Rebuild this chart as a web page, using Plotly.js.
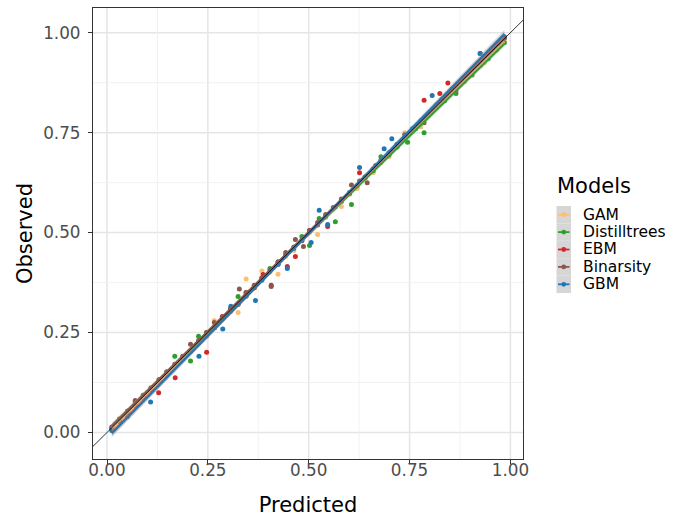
<!DOCTYPE html>
<html>
<head>
<meta charset="utf-8">
<script src="https://cdn.plot.ly/plotly-3.0.1.min.js"></script>
<style>html,body{margin:0;padding:0;background:#fff;}#chart{width:679px;height:517px;}</style>
</head>
<body>
<div id="chart"></div>
<script>
// ---- data ----
const models = ["GAM", "Distilltrees", "EBM", "Binarsity", "GBM"];
const colors = ["#FDBF6F", "#2CA02C", "#D62728", "#8C564B", "#1F77B4"];

const gamX = [0.012, 0.031, 0.051, 0.070, 0.090, 0.109, 0.129, 0.148, 0.168, 0.188, 0.207, 0.227, 0.247, 0.266, 0.286, 0.306, 0.325, 0.345, 0.365, 0.384, 0.404, 0.424, 0.443, 0.463, 0.483, 0.502, 0.522, 0.542, 0.561, 0.581, 0.601, 0.620, 0.640, 0.660, 0.679, 0.699, 0.719, 0.738, 0.758, 0.778, 0.797, 0.817, 0.837, 0.856, 0.876, 0.896, 0.915, 0.935, 0.955, 0.974, 0.985];
const gamY = [0.012, 0.028, 0.047, 0.068, 0.088, 0.106, 0.131, 0.145, 0.166, 0.186, 0.205, 0.224, 0.240, 0.280, 0.283, 0.303, 0.300, 0.384, 0.362, 0.404, 0.401, 0.396, 0.440, 0.455, 0.479, 0.500, 0.495, 0.538, 0.558, 0.565, 0.596, 0.610, 0.636, 0.650, 0.675, 0.690, 0.715, 0.750, 0.754, 0.765, 0.793, 0.812, 0.835, 0.851, 0.870, 0.891, 0.911, 0.925, 0.950, 0.969, 0.978];

const distX = [0.012, 0.031, 0.051, 0.070, 0.090, 0.109, 0.129, 0.148, 0.168, 0.188, 0.207, 0.227, 0.247, 0.266, 0.286, 0.306, 0.325, 0.345, 0.365, 0.384, 0.404, 0.424, 0.443, 0.463, 0.483, 0.502, 0.526, 0.542, 0.566, 0.581, 0.606, 0.620, 0.640, 0.660, 0.679, 0.699, 0.719, 0.745, 0.765, 0.786, 0.817, 0.837, 0.865, 0.885, 0.905, 0.925, 0.945, 0.965, 0.985];
const distY = [0.009, 0.033, 0.052, 0.076, 0.093, 0.112, 0.132, 0.150, 0.191, 0.190, 0.179, 0.241, 0.250, 0.262, 0.289, 0.309, 0.340, 0.347, 0.362, 0.386, 0.410, 0.425, 0.445, 0.464, 0.490, 0.468, 0.535, 0.541, 0.527, 0.578, 0.570, 0.617, 0.640, 0.655, 0.690, 0.694, 0.714, 0.726, 0.760, 0.750, 0.815, 0.830, 0.848, 0.878, 0.894, 0.918, 0.935, 0.957, 0.975];

const ebmX = [0.012, 0.031, 0.051, 0.070, 0.090, 0.109, 0.128, 0.148, 0.169, 0.188, 0.207, 0.227, 0.247, 0.266, 0.286, 0.306, 0.325, 0.345, 0.365, 0.387, 0.407, 0.424, 0.447, 0.467, 0.483, 0.502, 0.522, 0.547, 0.581, 0.601, 0.626, 0.640, 0.660, 0.699, 0.719, 0.738, 0.758, 0.786, 0.825, 0.845, 0.866, 0.896, 0.925, 0.955, 0.970, 0.985];
const ebmY = [0.010, 0.028, 0.049, 0.068, 0.087, 0.107, 0.0995, 0.146, 0.137, 0.185, 0.203, 0.224, 0.201, 0.262, 0.290, 0.303, 0.321, 0.350, 0.362, 0.395, 0.368, 0.421, 0.415, 0.440, 0.480, 0.505, 0.519, 0.515, 0.580, 0.598, 0.650, 0.638, 0.660, 0.697, 0.720, 0.737, 0.757, 0.831, 0.848, 0.874, 0.866, 0.890, 0.926, 0.955, 0.971, 0.988];

const binX = [0.012, 0.031, 0.051, 0.070, 0.090, 0.109, 0.129, 0.148, 0.168, 0.188, 0.207, 0.227, 0.247, 0.266, 0.286, 0.306, 0.328, 0.345, 0.365, 0.384, 0.407, 0.424, 0.443, 0.467, 0.487, 0.502, 0.522, 0.542, 0.561, 0.581, 0.606, 0.626, 0.645, 0.666, 0.679, 0.699, 0.719, 0.738, 0.758, 0.786, 0.817, 0.845, 0.865, 0.885, 0.905, 0.925, 0.945, 0.965, 0.985];
const binY = [0.014, 0.034, 0.054, 0.080, 0.093, 0.110, 0.132, 0.152, 0.171, 0.191, 0.221, 0.230, 0.250, 0.275, 0.289, 0.309, 0.359, 0.350, 0.368, 0.387, 0.365, 0.427, 0.450, 0.483, 0.465, 0.505, 0.525, 0.545, 0.563, 0.584, 0.619, 0.629, 0.625, 0.668, 0.681, 0.700, 0.721, 0.745, 0.760, 0.775, 0.819, 0.846, 0.854, 0.886, 0.906, 0.948, 0.946, 0.960, 0.987];

const gbmX = [0.012, 0.031, 0.051, 0.070, 0.090, 0.108, 0.129, 0.148, 0.168, 0.188, 0.207, 0.228, 0.247, 0.266, 0.287, 0.307, 0.325, 0.345, 0.368, 0.384, 0.404, 0.424, 0.447, 0.463, 0.483, 0.506, 0.526, 0.547, 0.566, 0.601, 0.626, 0.660, 0.687, 0.706, 0.738, 0.758, 0.778, 0.806, 0.830, 0.856, 0.885, 0.905, 0.925, 0.955, 0.985];
const gbmY = [0.005, 0.028, 0.040, 0.066, 0.086, 0.076, 0.126, 0.145, 0.164, 0.184, 0.203, 0.191, 0.243, 0.262, 0.259, 0.316, 0.321, 0.341, 0.330, 0.381, 0.405, 0.421, 0.410, 0.460, 0.480, 0.475, 0.556, 0.520, 0.564, 0.600, 0.663, 0.659, 0.710, 0.735, 0.739, 0.760, 0.779, 0.843, 0.832, 0.860, 0.887, 0.908, 0.948, 0.958, 0.990];

const tickVals = [0, 0.25, 0.5, 0.75, 1];
const tickText = ["0.00", "0.25", "0.50", "0.75", "1.00"];
const minorVals = [0.125, 0.375, 0.625, 0.875];

const seriesX = [gamX, distX, ebmX, binX, gbmX];
const seriesY = [gamY, distY, ebmY, binY, gbmY];

// ---- layout constants ----
const W = 679, H = 517;
const M = {l: 93, r: 156, t: 8, b: 58};
const xRange = [-0.0347, 1.0312];
const yRange = [-0.0663, 1.0618];
const FONT = "DejaVu Sans, sans-serif";

// linear model fit with 95% confidence band (as geom_smooth(method = "lm"))
function lmFit(xs, ys) {
  const n = xs.length;
  const xbar = xs.reduce((a, b) => a + b, 0) / n;
  const ybar = ys.reduce((a, b) => a + b, 0) / n;
  let sxx = 0, sxy = 0;
  for (let i = 0; i < n; i++) { sxx += (xs[i] - xbar) ** 2; sxy += (xs[i] - xbar) * (ys[i] - ybar); }
  const b = sxy / sxx, a = ybar - b * xbar;
  let sse = 0;
  for (let i = 0; i < n; i++) sse += (ys[i] - a - b * xs[i]) ** 2;
  const s = Math.sqrt(sse / (n - 2));
  return {a, b, s, xbar, sxx, n};
}
const tCrit = 2.01;

const traces = [];
// points
models.forEach((m, i) => {
  traces.push({
    type: "scatter", mode: "markers", x: seriesX[i], y: seriesY[i], name: m,
    marker: {color: colors[i], size: 5}, showlegend: false, hoverinfo: "x+y+name"
  });
});
// smooth ribbons + lines
models.forEach((m, i) => {
  const f = lmFit(seriesX[i], seriesY[i]);
  const x0 = Math.min(...seriesX[i]), x1 = Math.max(...seriesX[i]);
  const gx = [], fit = [], up = [], lo = [];
  for (let k = 0; k <= 80; k++) {
    const x = x0 + (x1 - x0) * k / 80;
    const yh = f.a + f.b * x;
    const se = f.s * Math.sqrt(1 / f.n + (x - f.xbar) ** 2 / f.sxx);
    gx.push(x); fit.push(yh); up.push(yh + tCrit * se); lo.push(yh - tCrit * se);
  }
  traces.push({
    type: "scatter", mode: "lines", x: gx.concat(gx.slice().reverse()), y: up.concat(lo.slice().reverse()),
    fill: "toself", fillcolor: "rgba(153,153,153,0.4)", line: {width: 0}, showlegend: false, hoverinfo: "skip"
  });
  traces.push({
    type: "scatter", mode: "lines", x: gx, y: fit, name: m,
    line: {color: colors[i], width: 2}, showlegend: false
  });
});
// identity reference line y = x
traces.push({
  type: "scatter", mode: "lines", x: [xRange[0], xRange[1]], y: [xRange[0], xRange[1]],
  line: {color: "#000000", width: 0.8}, showlegend: false, hoverinfo: "skip"
});

// ---- grid (ggplot theme_bw style) drawn beneath the data ----
const shapes = [], annotations = [];
tickVals.forEach(v => {
  shapes.push({type: "line", layer: "below", xref: "x", yref: "paper", x0: v, x1: v, y0: 0, y1: 1, line: {color: "#E5E5E5", width: 1.5}});
  shapes.push({type: "line", layer: "below", xref: "paper", yref: "y", x0: 0, x1: 1, y0: v, y1: v, line: {color: "#E5E5E5", width: 1.5}});
});
minorVals.forEach(v => {
  shapes.push({type: "line", layer: "below", xref: "x", yref: "paper", x0: v, x1: v, y0: 0, y1: 1, line: {color: "#F0F0F0", width: 0.9}});
  shapes.push({type: "line", layer: "below", xref: "paper", yref: "y", x0: 0, x1: 1, y0: v, y1: v, line: {color: "#F0F0F0", width: 0.9}});
});

// ---- manual ggplot-style legend ----
const pw = W - M.l - M.r, ph = H - M.t - M.b;
const px = x => (x - M.l) / pw;
const py = y => (H - M.b - y) / ph;
const keyL = 556.5, keyR = 571, keyTop = 206, keyH = 17.4;
annotations.push({
  xref: "paper", yref: "paper", x: px(555), y: py(186), xanchor: "left", yanchor: "middle",
  text: "Models", showarrow: false, font: {family: FONT, size: 21, color: "#000"}
});
models.forEach((m, i) => {
  const top = keyTop + i * keyH, cy = top + keyH / 2;
  shapes.push({type: "rect", xref: "paper", yref: "paper", x0: px(keyL), x1: px(keyR), y0: py(top), y1: py(top + keyH),
    fillcolor: "#D6D6D6", line: {width: 0}, layer: "above"});
  shapes.push({type: "line", xref: "paper", yref: "paper", x0: px(keyL + 1.5), x1: px(keyR - 1.5), y0: py(cy), y1: py(cy),
    line: {color: colors[i], width: 1.8}, layer: "above"});
  const r = 2.4, cx = (keyL + keyR) / 2;
  shapes.push({type: "circle", xref: "paper", yref: "paper", x0: px(cx - r), x1: px(cx + r), y0: py(cy - r), y1: py(cy + r),
    fillcolor: colors[i], line: {width: 0}, layer: "above"});
  annotations.push({
    xref: "paper", yref: "paper", x: px(582), y: py(cy), xanchor: "left", yanchor: "middle",
    text: m, showarrow: false, borderpad: 0, font: {family: FONT, size: 15.5, color: "#000"}
  });
});

const axisCommon = {
  tickmode: "array", tickvals: tickVals, ticktext: tickText, ticks: "outside", ticklen: 4, tickwidth: 1, tickcolor: "#333333",
  tickfont: {family: FONT, size: 16.8, color: "#4D4D4D"},
  showgrid: false,
  zeroline: false, showline: true, mirror: true, linecolor: "#333333", linewidth: 1.1,
  automargin: false, fixedrange: true
};

const layout = {
  width: W, height: H, margin: {l: M.l, r: M.r, t: M.t, b: M.b, pad: 0},
  paper_bgcolor: "#fff", plot_bgcolor: "#fff", showlegend: false,
  font: {family: FONT},
  xaxis: Object.assign({}, axisCommon, {range: xRange, ticklabelstandoff: -8,
    title: {text: "Predicted", font: {family: FONT, size: 21, color: "#000"}, standoff: 20}}),
  yaxis: Object.assign({}, axisCommon, {range: yRange, ticklabelstandoff: 4,
    title: {text: "Observed", font: {family: FONT, size: 21, color: "#000"}, standoff: 4}}),
  shapes: shapes, annotations: annotations
};

Plotly.newPlot("chart", traces, layout, {staticPlot: true, displayModeBar: false});
</script>
</body>
</html>
